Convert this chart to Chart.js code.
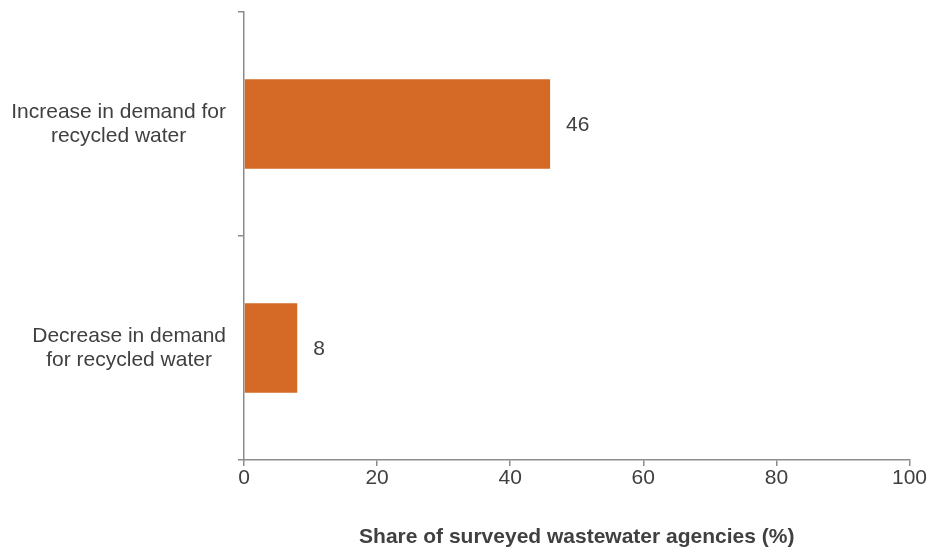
<!DOCTYPE html>
<html>
<head>
<meta charset="utf-8">
<script src="https://cdn.jsdelivr.net/npm/chart.js@4.4.0/dist/chart.umd.min.js"></script>
<style>
  html, body { margin: 0; padding: 0; background: #fff; }
  #wrap { width: 927px; height: 550px; }
</style>
</head>
<body>
<div id="wrap"><canvas id="chart"></canvas></div>
<script>
const categories = [
  ["Increase in demand for", "recycled water"],
  ["Decrease in demand", "for recycled water"]
];
const shares = [46, 8];
const xTicks = [0, 20, 40, 60, 80, 100];

const textColor = "#404040";
const axisColor = "#8c8c8c";
const font = "Liberation Sans, Arial, sans-serif";

// category labels: block right-aligned, lines centred inside the block
const catLabels = {
  id: "catLabels",
  afterDraw(chart) {
    const ctx = chart.ctx;
    const y = chart.scales.y;
    ctx.save();
    ctx.font = "21px " + font;
    ctx.fillStyle = textColor;
    ctx.textAlign = "center";
    ctx.textBaseline = "middle";
    categories.forEach((lines, i) => {
      const maxW = Math.max(...lines.map(l => ctx.measureText(l).width));
      const cx = 226 - maxW / 2;
      const cy = y.getPixelForValue(i);
      const lh = 24;
      lines.forEach((l, j) => {
        ctx.fillText(l, cx, cy + (j - (lines.length - 1) / 2) * lh);
      });
    });
    ctx.restore();
  }
};

// value labels to the right of each bar
const valueLabels = {
  id: "valueLabels",
  afterDatasetsDraw(chart) {
    const ctx = chart.ctx;
    const meta = chart.getDatasetMeta(0);
    ctx.save();
    ctx.font = "21px " + font;
    ctx.fillStyle = textColor;
    ctx.textAlign = "left";
    ctx.textBaseline = "middle";
    meta.data.forEach((bar, i) => {
      ctx.fillText(String(shares[i]), bar.x + 16, bar.y + 1);
    });
    ctx.restore();
  }
};

new Chart(document.getElementById("chart"), {
  type: "bar",
  data: {
    labels: categories,
    datasets: [{
      data: shares,
      backgroundColor: "#d56a27",
      barPercentage: 1,
      categoryPercentage: 0.4
    }]
  },
  options: {
    indexAxis: "y",
    responsive: true,
    maintainAspectRatio: false,
    animation: false,
    layout: { padding: { top: 12, right: 0, left: 0, bottom: 0 } },
    plugins: {
      legend: { display: false },
      tooltip: { enabled: false }
    },
    scales: {
      x: {
        min: 0,
        max: 100,
        afterBuildTicks(scale) {
          scale.ticks = xTicks.map(v => ({ value: v }));
        },
        afterFit(scale) { scale.height = 90; },
        grid: {
          drawOnChartArea: false,
          drawTicks: true,
          tickLength: 6,
          color: axisColor,
          lineWidth: 1.5
        },
        border: { color: axisColor, width: 1.5 },
        ticks: {
          color: textColor,
          font: { family: font, size: 21 },
          padding: 0,
          maxRotation: 0
        },
        title: {
          display: true,
          text: "Share of surveyed wastewater agencies (%)",
          color: textColor,
          font: { family: font, size: 21, weight: "bold" },
          padding: { top: 14, bottom: 0 }
        }
      },
      y: {
        offset: true,
        afterFit(scale) { scale.width = 244; },
        grid: {
          offset: true,
          drawOnChartArea: false,
          drawTicks: true,
          tickLength: 6,
          color: axisColor,
          lineWidth: 1.5
        },
        border: { color: axisColor, width: 1.5 },
        ticks: { display: false }
      }
    }
  },
  plugins: [catLabels, valueLabels]
});
</script>
</body>
</html>
